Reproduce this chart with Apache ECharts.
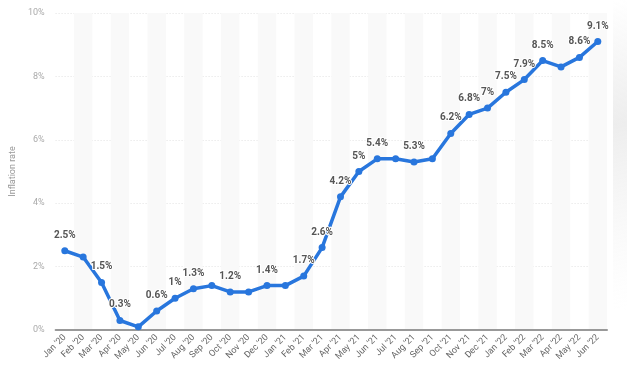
<!DOCTYPE html>
<html>
<head>
<meta charset="utf-8">
<script src="https://cdn.jsdelivr.net/npm/echarts@6/dist/echarts.min.js"></script>
<style>
  html, body { margin: 0; padding: 0; background: #fff; }
  #chart { width: 627px; height: 376px; }
</style>
</head>
<body>
<div id="chart"></div>
<script>
// monthly inflation rate, Jan 2020 - Jun 2022
const months = [
  "Jan '20", "Feb '20", "Mar '20", "Apr '20", "May '20", "Jun '20",
  "Jul '20", "Aug '20", "Sep '20", "Oct '20", "Nov '20", "Dec '20",
  "Jan '21", "Feb '21", "Mar '21", "Apr '21", "May '21", "Jun '21",
  "Jul '21", "Aug '21", "Sep '21", "Oct '21", "Nov '21", "Dec '21",
  "Jan '22", "Feb '22", "Mar '22", "Apr '22", "May '22", "Jun '22"
]
const rates = [
  2.5, 2.3, 1.5, 0.3, 0.1, 0.6, 1.0, 1.3, 1.4, 1.2, 1.2, 1.4,
  1.4, 1.7, 2.6, 4.2, 5.0, 5.4, 5.4, 5.3, 5.4, 6.2, 6.8, 7.0,
  7.5, 7.9, 8.5, 8.3, 8.6, 9.1
]
// which points carry a value label
const labelled = [
  "Jan '20", "Mar '20", "Apr '20", "Jun '20", "Jul '20", "Aug '20",
  "Oct '20", "Dec '20", "Feb '21", "Mar '21", "Apr '21", "May '21",
  "Jun '21", "Aug '21", "Oct '21", "Nov '21", "Dec '21", "Jan '22",
  "Feb '22", "Mar '22", "May '22", "Jun '22"
]
const yTicks = [0, 2, 4, 6, 8, 10]

let chart = echarts.init(document.getElementById('chart'))

const seriesData = rates.map((v, i) => ({
  value: v,
  label: { show: labelled.includes(months[i]) }
}))

let option = {
  animation: false,
  grid: {
    left: 53,
    right: 20,
    top: 13,
    bottom: 46
  },
  xAxis: {
    type: 'category',
    data: months,
    boundaryGap: true,
    axisTick: { show: false },
    axisLine: {
      lineStyle: { color: '#999', width: 2 }
    },
    axisLabel: {
      rotate: 45,
      interval: 0,
      color: '#666',
      fontSize: 9,
      fontFamily: 'Roboto',
      margin: 6
    },
    splitArea: {
      show: true,
      areaStyle: { color: ['rgba(255,255,255,0)', '#f9f9f9'] }
    }
  },
  yAxis: {
    type: 'value',
    min: yTicks[0],
    max: yTicks[yTicks.length - 1],
    interval: 2,
    name: 'Inflation rate',
    nameLocation: 'middle',
    nameRotate: 90,
    nameGap: 36,
    nameTextStyle: { color: '#999', fontSize: 9, fontFamily: 'Roboto' },
    axisLine: { show: false },
    axisTick: { show: false },
    axisLabel: {
      formatter: '{value}%',
      color: '#aaa',
      fontSize: 9,
      fontFamily: 'Roboto',
      margin: 11
    },
    splitLine: {
      lineStyle: { color: '#e2e2e2', type: [1, 2] }
    }
  },
  series: [
    {
      type: 'line',
      data: seriesData,
      color: '#2876dd',
      symbol: 'circle',
      symbolSize: 7,
      lineStyle: { width: 3.5, color: '#2876dd' },
      itemStyle: { color: '#2876dd' },
      label: {
        position: 'top',
        distance: 7,
        formatter: p => p.value + '%',
        color: '#555',
        fontSize: 10,
        fontWeight: 'bold',
        fontFamily: 'Roboto',
        textBorderColor: '#fff',
        textBorderWidth: 2
      },
      z: 3
    }
  ],
  graphic: [
    {
      type: 'rect',
      right: 0,
      top: 0,
      shape: { width: 14, height: 310 },
      style: {
        fill: new echarts.graphic.LinearGradient(0, 0, 1, 1, [
          { offset: 0, color: 'rgba(235,235,235,0)' },
          { offset: 0.4, color: 'rgba(235,235,235,0.9)' },
          { offset: 1, color: 'rgba(245,245,245,0)' }
        ])
      },
      silent: true
    }
  ]
}

chart.setOption(option)
</script>
</body>
</html>
